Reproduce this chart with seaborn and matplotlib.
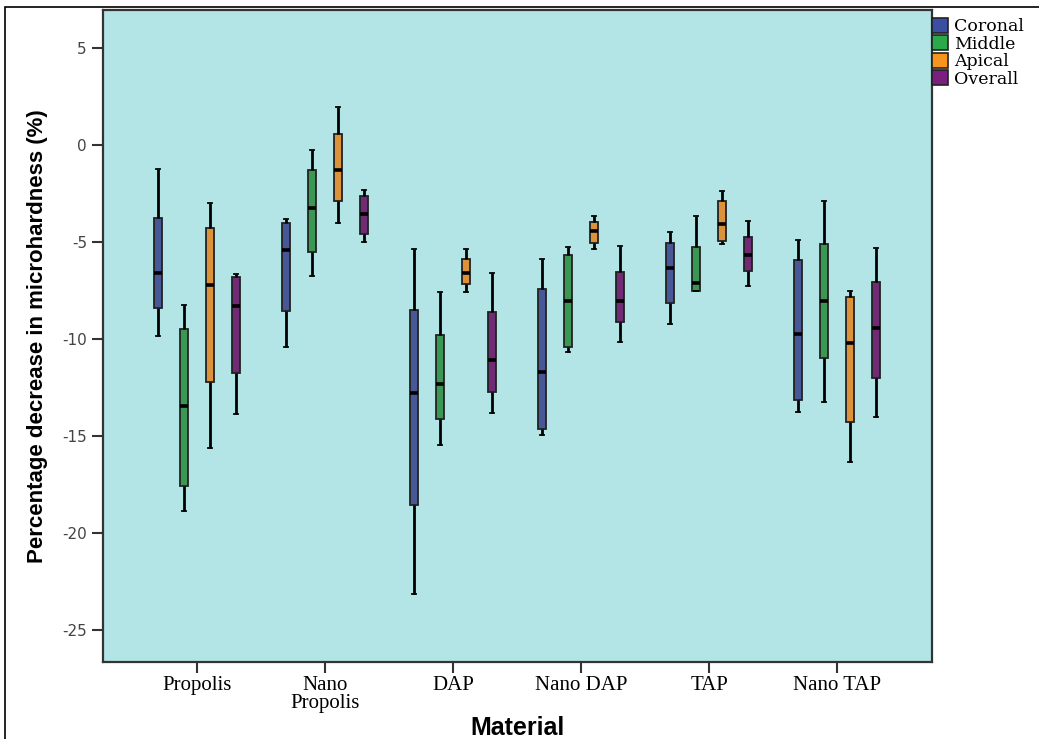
import numpy as np
import pandas as pd
import matplotlib
matplotlib.use("Agg")
import matplotlib.pyplot as plt
import seaborn as sns
from matplotlib.patches import Patch, Rectangle

# Valeurs : [min, Q1, médiane, Q3, max] pour chaque matériau
materials = ["Propolis", "Nano\nPropolis", "DAP", "Nano DAP", "TAP", "Nano TAP"]
regions = ["Coronal", "Middle", "Apical", "Overall"]

coronal = [[-9.85, -8.42, -6.58, -3.75, -1.25],
           [-10.43, -8.54, -5.41, -4.00, -3.83],
           [-23.16, -18.54, -12.78, -8.50, -5.36],
           [-14.93, -14.66, -11.70, -7.44, -5.89],
           [-9.23, -8.16, -6.32, -5.07, -4.48],
           [-13.75, -13.13, -9.72, -5.93, -4.90]]
middle = [[-18.85, -17.56, -13.45, -9.47, -8.25],
          [-6.74, -5.50, -3.25, -1.29, -0.26],
          [-15.48, -14.10, -12.32, -9.78, -7.59],
          [-10.67, -10.40, -8.06, -5.65, -5.27],
          [-7.55, -7.51, -7.13, -5.27, -3.66],
          [-13.25, -11.00, -8.02, -5.10, -2.87]]
apical = [[-15.64, -12.23, -7.22, -4.30, -3.01],
          [-4.00, -2.90, -1.31, 0.58, 1.98],
          [-7.56, -7.16, -6.60, -5.89, -5.34],
          [-5.36, -5.03, -4.43, -3.97, -3.66],
          [-5.10, -4.97, -4.09, -2.89, -2.39],
          [-16.32, -14.26, -10.19, -7.85, -7.51]]
overall = [[-13.87, -11.77, -8.28, -6.79, -6.67],
           [-4.98, -4.60, -3.57, -2.63, -2.32],
           [-13.83, -12.73, -11.10, -8.63, -6.58],
           [-10.15, -9.14, -8.04, -6.56, -5.19],
           [-7.27, -6.48, -5.69, -4.76, -3.90],
           [-14.04, -12.01, -9.42, -7.06, -5.31]]

colors = ["#3B4FA2", "#2BA84A", "#F7941D", "#7A1F7F"]

# Mise en forme longue pour seaborn
rows = []
for reg, stats in zip(regions, [coronal, middle, apical, overall]):
    for mat, vals in zip(materials, stats):
        for v in vals:
            rows.append({"Material": mat, "Region": reg, "Value": v})
df = pd.DataFrame(rows)

fig = plt.figure(figsize=(10.39, 7.39), dpi=100)
ax = fig.add_axes([0.0991, 0.1042, 0.7979, 0.8823])
ax.set_facecolor("#B4E5E6")

sns.boxplot(data=df, x="Material", y="Value", hue="Region",
            order=materials, hue_order=regions, palette=colors,
            whis=(0, 100), width=0.81, gap=0.68, linewidth=1.3,
            linecolor="#222222", fliersize=0,
            medianprops={"color": "black", "linewidth": 2.6},
            whiskerprops={"color": "black", "linewidth": 2.0},
            capprops={"color": "black", "linewidth": 1.3},
            legend=False, ax=ax)

ax.set_xlim(-0.734, 5.74)
ax.set_ylim(-26.65, 6.96)
ax.set_yticks([5, 0, -5, -10, -15, -20, -25])
ax.set_yticklabels(["5", "0", "-5", "-10", "-15", "-20", "-25"],
                   fontsize=11, color="#444444", family="DejaVu Sans")
ax.set_xticks(range(len(materials)))
ax.set_xticklabels(materials, fontsize=15, family=["Liberation Serif", "DejaVu Serif"],
                   linespacing=0.95)
ax.tick_params(axis="both", direction="out", length=8, width=1.5, color="#333333")
ax.tick_params(axis="x", pad=2)

for s in ax.spines.values():
    s.set_color("#333333")
    s.set_linewidth(1.6)

ax.set_xlabel("Material", fontsize=18, fontweight="bold",
              family=["Liberation Sans", "DejaVu Sans"])
ax.xaxis.set_label_coords(0.5, -0.083)
ax.set_ylabel("Percentage decrease in microhardness (%)", fontsize=16, fontweight="bold",
              family=["Liberation Sans", "DejaVu Sans"], labelpad=10)

handles = [Patch(facecolor=c, edgecolor="#222222", linewidth=1.2, label=r)
           for c, r in zip(colors, regions)]
fig.legend(handles=handles, loc="upper left", bbox_to_anchor=(0.897, 0.976),
           frameon=False, prop={"family": ["DejaVu Serif"], "size": 12.5},
           handlelength=0.95, handleheight=0.95, handletextpad=0.3, labelspacing=0.0,
           borderpad=0, borderaxespad=0)

# cadre extérieur
fig.patches.append(Rectangle((0.005, -0.01), 1.2, 1.0, transform=fig.transFigure,
                             fill=False, edgecolor="black", linewidth=1.2))

fig.savefig("out.png", dpi=100)
